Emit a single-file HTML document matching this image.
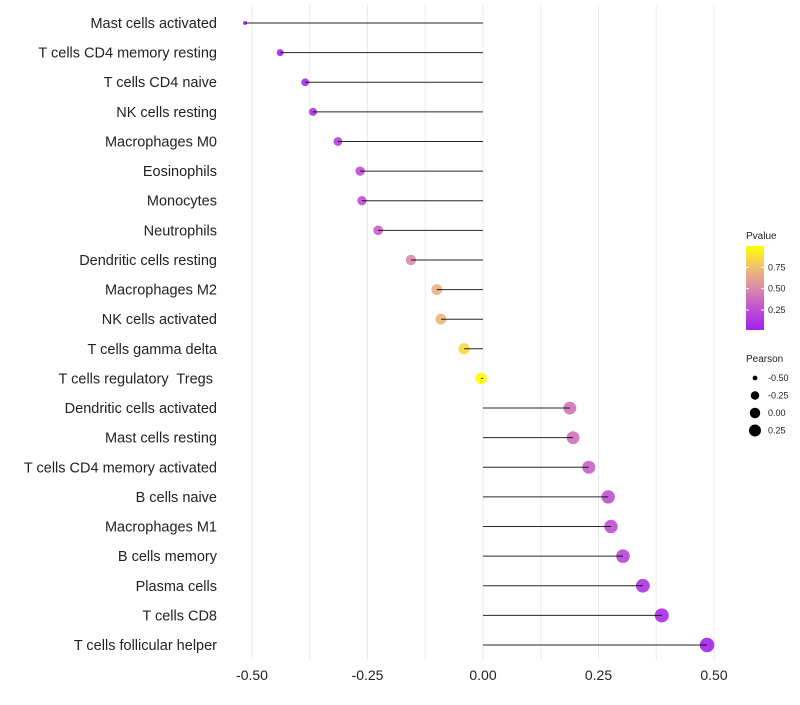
<!DOCTYPE html>
<html><head><meta charset="utf-8"><style>
body{margin:0;background:#fff;font-family:"Liberation Sans",sans-serif}
svg text{font-family:"Liberation Sans",sans-serif;white-space:pre}
</style></head><body>
<svg id="c" width="800" height="700"></svg>
<script>
const categories=["Mast cells activated","T cells CD4 memory resting","T cells CD4 naive","NK cells resting","Macrophages M0","Eosinophils","Monocytes","Neutrophils","Dendritic cells resting","Macrophages M2","NK cells activated","T cells gamma delta","T cells regulatory  Tregs ","Dendritic cells activated","Mast cells resting","T cells CD4 memory activated","B cells naive","Macrophages M1","B cells memory","Plasma cells","T cells CD8","T cells follicular helper"];
const pearson=[-0.515,-0.439,-0.385,-0.368,-0.314,-0.266,-0.262,-0.227,-0.156,-0.100,-0.091,-0.041,-0.004,0.188,0.195,0.229,0.271,0.277,0.303,0.346,0.387,0.485];
const pvalue=[0.01,0.03,0.08,0.1,0.16,0.24,0.25,0.31,0.5,0.67,0.7,0.86,0.99,0.4,0.39,0.32,0.24,0.23,0.18,0.11,0.07,0.02];
const xTicks=[-0.5,-0.25,0,0.25,0.5];
const xTickLabels=["-0.50","-0.25","0.00","0.25","0.50"];
const xMinor=[-0.375,-0.125,0.125,0.375];
const pTicks=[0.25,0.5,0.75];
const sizeTicks=[-0.5,-0.25,0,0.25];
const NS="http://www.w3.org/2000/svg";
const svg=document.getElementById('c');
function el(t,a,p){const e=document.createElementNS(NS,t);for(const k in a)e.setAttribute(k,a[k]);(p||svg).appendChild(e);return e;}
const x=v=>483+v*462;
const y=i=>23+i*(622/21);
const rad=v=>2+Math.sqrt(Math.max(0,v+0.515))*5.3;
const stops=[[0,[160,32,240]],[0.25,[192,80,208]],[0.5,[216,140,170]],[0.75,[240,192,112]],[1,[255,255,0]]];
function col(p){for(let i=1;i<stops.length;i++){if(p<=stops[i][0]){const a=stops[i-1],b=stops[i];const t=(p-a[0])/(b[0]-a[0]);return 'rgb('+a[1].map((c,k)=>Math.round(c+(b[1][k]-c)*t)).join(',')+')';}}return 'rgb(255,255,0)';}
xTicks.concat(xMinor).forEach(v=>{const g=el('line',{x1:x(v),x2:x(v),y1:5,y2:660,stroke:'#ebebeb','stroke-width':1});

});
xTicks.forEach((v,i)=>{const t=el('text',{x:x(v),y:680,'text-anchor':'middle','font-size':14,fill:'#222'});t.textContent=xTickLabels[i];

});
categories.forEach((c,i)=>{
const t=el('text',{x:217,y:y(i)+5,'text-anchor':'end','font-size':14.5,fill:'#222'});t.textContent=c;


const ci=el('circle',{cx:x(pearson[i]),cy:y(i),r:rad(pearson[i]),fill:col(pvalue[i]),'fill-opacity':0.9});


const l=el('line',{x1:x(0),x2:x(pearson[i]),y1:y(i),y2:y(i),stroke:'#000','stroke-width':1,'stroke-opacity':0.85});


});
const t1=el('text',{x:746,y:239,'font-size':10,fill:'#222'});t1.textContent='Pvalue';


const defs=el('defs',{});const gr=el('linearGradient',{id:'g',x1:0,y1:1,x2:0,y2:0},defs);
stops.forEach(s=>el('stop',{offset:s[0],'stop-color':'rgb('+s[1].join(',')+')'},gr));
const bar=el('rect',{x:746,y:246,width:18,height:84,fill:'url(#g)'});


const py=p=>246+84*(1-(p-0.015)/0.985);
pTicks.forEach(p=>{el('line',{x1:746,x2:749,y1:py(p),y2:py(p),stroke:'#fff'});el('line',{x1:761,x2:764,y1:py(p),y2:py(p),stroke:'#fff'});
const t=el('text',{x:768,y:py(p)+3,'font-size':9,fill:'#222'});t.textContent=p.toFixed(2);

});
const t2=el('text',{x:746,y:362,'font-size':10,fill:'#222'});t2.textContent='Pearson';


sizeTicks.forEach((v,i)=>{const cy=378+i*17.5;const c=el('circle',{cx:755,cy:cy,r:rad(v)*0.9,fill:'#000'});


const t=el('text',{x:768,y:cy+3,'font-size':9,fill:'#222'});t.textContent=v.toFixed(2);

});
</script>
</body></html>
